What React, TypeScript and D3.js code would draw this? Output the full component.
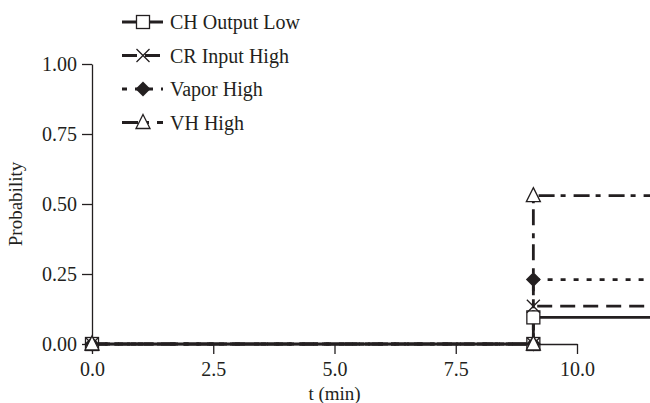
import * as d3 from "d3";
import { useEffect, useRef } from "react";

const seriesNames = ["CH Output Low", "CR Input High", "Vapor High", "VH High"];
const markerShapes = ["square", "cross", "diamond", "triangle"];
const dashPatterns = ["none", "15,8", "5,8", "16,6,5,8"];
const timePoints = [0, 9.1, 9.1, 13];
const chOutputLow = [0, 0, 0.095, 0.095];
const crInputHigh = [0, 0, 0.135, 0.135];
const vaporHigh = [0, 0, 0.23, 0.23];
const vhHigh = [0, 0, 0.53, 0.53];
const xTicks = [0, 2.5, 5, 7.5, 10];
const yTicks = [0, 0.25, 0.5, 0.75, 1];

const ink = "#231f20";
const font = "Liberation Serif, Times New Roman, Times, serif";

function drawMarker(g, shape, x, y) {
  const s = 6.5;
  if (shape === "square") {
    g.append("rect").attr("x", x - s).attr("y", y - s).attr("width", 2 * s).attr("height", 2 * s)
      .attr("fill", "#fff").attr("stroke", ink).attr("stroke-width", 1.3);
  } else if (shape === "cross") {
    g.append("path").attr("d", `M${x - s},${y - s}L${x + s},${y + s}M${x - s},${y + s}L${x + s},${y - s}`)
      .attr("stroke", ink).attr("stroke-width", 1.3).attr("fill", "none");
  } else if (shape === "diamond") {
    g.append("path").attr("d", `M${x},${y - 7.5}L${x + 7.5},${y}L${x},${y + 7.5}L${x - 7.5},${y}Z`)
      .attr("fill", ink);
  } else {
    g.append("path").attr("d", `M${x},${y - 8}L${x + 7},${y + 6}L${x - 7},${y + 6}Z`)
      .attr("fill", "#fff").attr("stroke", ink).attr("stroke-width", 1.3);
  }
}

function drawChart(svgElement) {
  const width = 650;
  const height = 403;
  const svg = d3.select(svgElement);
  svg.selectAll("*").remove();
  svg.attr("width", width).attr("height", height).attr("viewBox", `0 0 ${width} ${height}`)
    .attr("font-family", font);

  const x = d3.scaleLinear().domain([0, 10]).range([92, 577]);
  const y = d3.scaleLinear().domain([0, 1]).range([344, 64]);

  const xAxis = svg.append("g").attr("transform", `translate(0,${y(0)})`)
    .call(d3.axisBottom(x).tickValues(xTicks).tickFormat(d3.format(".1f")).tickSize(10).tickSizeOuter(0).tickPadding(8));
  const yAxis = svg.append("g").attr("transform", `translate(${x(0)},0)`)
    .call(d3.axisLeft(y).tickValues(yTicks).tickFormat(d3.format(".2f")).tickSize(10).tickSizeOuter(0).tickPadding(5));
  [xAxis, yAxis].forEach((a) => {
    a.attr("font-family", font).attr("font-size", 20);
    a.selectAll("path, line").attr("stroke", ink).attr("stroke-width", 1.3);
    a.selectAll("text").attr("fill", ink);
  });

  svg.append("text").attr("x", (x(0) + x(10)) / 2).attr("y", 400).attr("text-anchor", "middle")
    .attr("fill", ink).attr("font-size", 19).text("t (min)");
  svg.append("text").attr("transform", `translate(22,${(y(0) + y(1)) / 2}) rotate(-90)`).attr("text-anchor", "middle")
    .attr("fill", ink).attr("font-size", 19).text("Probability");

  const allValues = [chOutputLow, crInputHigh, vaporHigh, vhHigh];
  const line = d3.line().x((d) => x(d[0])).y((d) => y(d[1]));

  allValues.forEach((vals, i) => {
    const pts = timePoints.map((t, j) => [t, vals[j]]);
    svg.append("path").attr("d", line(pts)).attr("fill", "none").attr("stroke", ink)
      .attr("stroke-width", 2.8).attr("stroke-dasharray", dashPatterns[i]);
  });
  allValues.forEach((vals, i) => {
    const g = svg.append("g");
    timePoints.slice(0, 3).forEach((t, j) => drawMarker(g, markerShapes[i], x(t), y(vals[j])));
  });

  const legend = svg.append("g");
  seriesNames.forEach((name, i) => {
    const ly = 22 + i * 33.5;
    legend.append("line").attr("x1", 122).attr("x2", 163).attr("y1", ly).attr("y2", ly)
      .attr("stroke", ink).attr("stroke-width", 2.8).attr("stroke-dasharray", dashPatterns[i]);
    drawMarker(legend, markerShapes[i], 143, ly);
    legend.append("text").attr("x", 170).attr("y", ly).attr("dy", "0.35em").attr("fill", ink)
      .attr("font-size", 20).text(name);
  });
}

export default function App() {
  const svgRef = useRef(null);
  useEffect(() => {
    drawChart(svgRef.current);
  }, []);
  return <svg ref={svgRef} style={{ position: "absolute", left: 0, top: 0, display: "block" }} />;
}
